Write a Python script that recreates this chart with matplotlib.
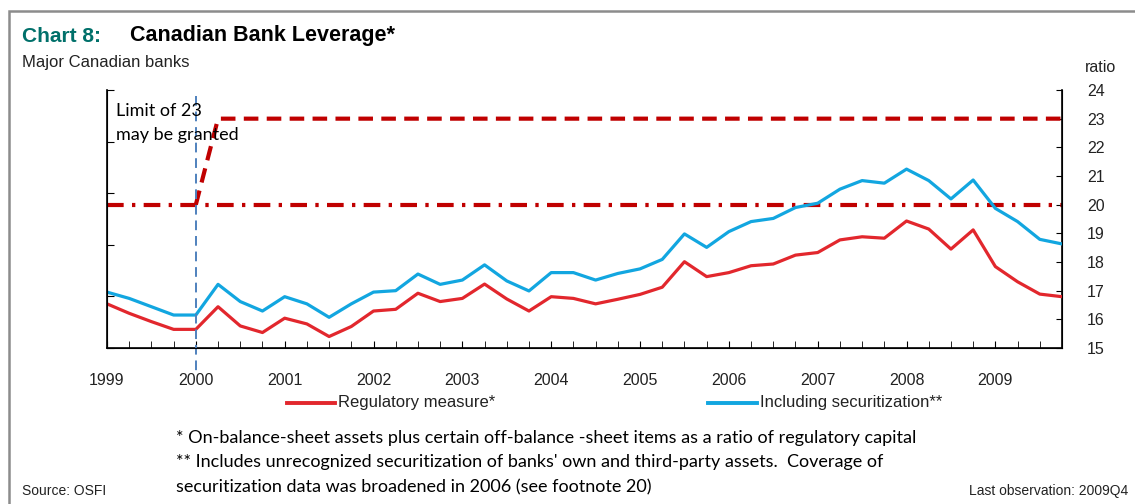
import matplotlib.pyplot as plt
import matplotlib.patches as mpatches
import numpy as np

# quarterly data, 1999Q1 .. 2009Q4
regulatory = [16.54, 16.21, 15.92, 15.65, 15.65, 16.44, 15.77, 15.54, 16.04, 15.84, 15.40, 15.75,
              16.29, 16.35, 16.91, 16.62, 16.73, 17.23, 16.71, 16.29, 16.79, 16.73, 16.54, 16.70,
              16.87, 17.12, 18.01, 17.49, 17.63, 17.87, 17.93, 18.24, 18.33, 18.77, 18.88, 18.83,
              19.43, 19.15, 18.45, 19.12, 17.84, 17.31, 16.88, 16.79]
securitization = [16.95, 16.73, 16.44, 16.15, 16.15, 17.22, 16.62, 16.29, 16.79, 16.54, 16.07, 16.54,
                  16.95, 17.00, 17.58, 17.22, 17.37, 17.90, 17.34, 16.99, 17.63, 17.63, 17.37, 17.60,
                  17.76, 18.09, 18.98, 18.51, 19.06, 19.41, 19.52, 19.90, 20.05, 20.54, 20.84, 20.75,
                  21.24, 20.84, 20.20, 20.86, 19.87, 19.41, 18.79, 18.63]
limit_base = 20
limit_granted = 23
years = [str(y) for y in range(1999, 2010)]
right_ticks = list(range(15, 25))

n = len(regulatory)
x = np.arange(n)
limit23 = np.full(n, np.nan)
limit23[4] = limit_base
limit23[5:] = limit_granted

SANS = ['Liberation Sans', 'DejaVu Sans']
CAL = ['Lato', 'DejaVu Sans']

fig = plt.figure(figsize=(11.35, 5.04), dpi=100)
ax = fig.add_axes([107/1135, 156/504, 955/1135, 258/504])

# unlabelled left scale (twinx first: it moves the parent's ticks to the left)
ax2 = ax.twinx()
ax2.set_ylim(0, 5)
ax2.yaxis.tick_left()
ax2.set_yticks(range(6))
ax2.set_yticklabels([])
ax2.tick_params(axis='y', direction='in', length=5)
ax2.spines['top'].set_visible(False)

ax.plot(x, [limit_base]*n, color='#C00000', lw=3, dashes=(4, 2, 0.8, 2), zorder=2)
ax.plot(x, limit23, color='#C00000', lw=3, dashes=(3.5, 2), zorder=2)
ax.plot(x, regulatory, color='#E2272D', lw=2.3, zorder=3)
ax.plot(x, securitization, color='#12A6E0', lw=2.3, zorder=3)
ax.plot([4, 4], [23.8, 14.15], color='#4F81BD', lw=1.4, dashes=(5, 3), clip_on=False, zorder=4)

ax.set_xlim(0, n - 1)
ax.set_ylim(15, 24)
ax.yaxis.tick_right()
ax.set_yticks(right_ticks)
ax.set_yticklabels([str(t) for t in right_ticks], family=SANS, fontsize=11.5, color='#222222')
ax.tick_params(axis='y', direction='in', length=4, pad=18)
ax.set_xticks(x, minor=True)
ax.set_xticks(x[::4])
ax.set_xticklabels(years, family=SANS, fontsize=11.5, color='#222222')
ax.tick_params(axis='x', which='both', direction='in', length=5, pad=18)
ax.spines['top'].set_visible(False)
for s in ['left', 'right', 'bottom']:
    ax.spines[s].set_linewidth(1.2)

ax.text(0.4, 22.85, 'Limit of 23\nmay be granted', family=CAL, fontsize=13,
        va='center', ha='left', linespacing=1.6, zorder=5)

# frame
fig.add_artist(mpatches.Rectangle((9/1135, -0.01), 1.02, (504-11)/504 + 0.01, transform=fig.transFigure,
                                  fill=False, edgecolor='#8c8c8c', lw=1.8))

fig.text(22/1135, 1 - 36/504, 'Chart 8:', color='#00706A', fontsize=15, fontweight='bold',
         family=SANS, va='center')
fig.text(130/1135, 1 - 36/504, 'Canadian Bank Leverage*', color='black', fontsize=15.5, fontweight='bold',
         family=SANS, va='center')
fig.text(22/1135, 1 - 62/504, 'Major Canadian banks', fontsize=12, family=SANS, va='center', color='#222222')
fig.text(1101/1135, 1 - 67/504, 'ratio', fontsize=11.5, family=SANS, va='center', ha='center', color='#222222')

# legend
fig.add_artist(plt.Line2D([287/1135, 335/1135], [1 - 403/504]*2, color='#E2272D', lw=2.8))
fig.text(338/1135, 1 - 403/504, 'Regulatory measure*', fontsize=12, family=SANS, va='center', color='#222222')
fig.add_artist(plt.Line2D([708/1135, 757/1135], [1 - 403/504]*2, color='#12A6E0', lw=2.8))
fig.text(760/1135, 1 - 403/504, 'Including securitization**', fontsize=12, family=SANS, va='center', color='#222222')

notes = ['* On-balance-sheet assets plus certain off-balance -sheet items as a ratio of regulatory capital',
         "** Includes unrecognized securitization of banks' own and third-party assets.  Coverage of",
         'securitization data was broadened in 2006 (see footnote 20)']
for i, t in enumerate(notes):
    fig.text(176/1135, 1 - (438 + 24.5*i)/504, t, fontsize=13, family=CAL, va='center')

fig.text(22/1135, 1 - 491/504, 'Source: OSFI', fontsize=10, family=SANS, va='center', color='#222222')
fig.text(1128/1135, 1 - 491/504, 'Last observation: 2009Q4', fontsize=10, family=SANS, va='center',
         ha='right', color='#222222')

fig.savefig('out.png', dpi=100)
